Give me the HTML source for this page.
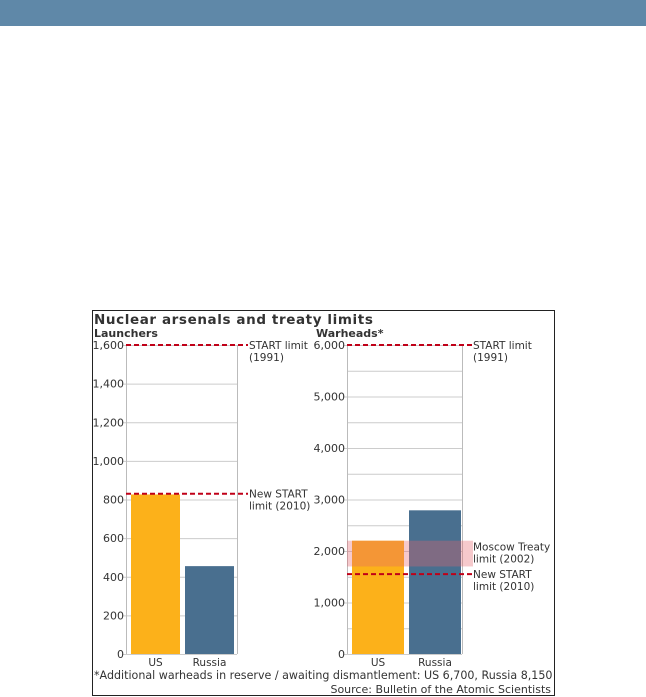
<!DOCTYPE html>
<html><head><meta charset="utf-8"><style>
body{margin:0;width:646px;height:697px;background:#fff;position:relative;overflow:hidden;font-family:"DejaVu Sans","Liberation Sans",sans-serif}
#hdr{position:absolute;left:0;top:0;width:646px;height:26px;background:#5f88a8}
svg{position:absolute;left:0;top:0}
text{font-family:"DejaVu Sans","Liberation Sans",sans-serif;fill:#333}
</style></head><body>
<div id="hdr"></div>
<svg id="c" width="646" height="697"></svg>
<script>
const categories=["US","Russia"];
const launchers=[826,455];
const warheads=[2200,2790];
const launcherTicks=[0,200,400,600,800,1000,1200,1400,1600];
const warheadTicks=[0,1000,2000,3000,4000,5000,6000];
const warheadGrid=[500,1500,2500,3500,4500,5500];
const launcherLimits=[1600,830];
const warheadLimits=[6000,1550];
const moscowBand=[1700,2200];
const colors=["#fcb11a","#496f8f"];
const svg=document.getElementById('c');const NS='http://www.w3.org/2000/svg';
function el(t,a,txt){const e=document.createElementNS(NS,t);for(const k in a)e.setAttribute(k,a[k]);if(txt!==undefined)e.textContent=txt;svg.appendChild(e);return e;}
const y0=654,yTop=345;
function yL(v){return y0-(v/1600)*(y0-yTop);}
function yW(v){return y0-(v/6000)*(y0-yTop);}
function fmt(v){return v.toLocaleString('en-US');}
let f=el('rect',{x:92.5,y:310.5,width:462,height:385,fill:'none',stroke:'#222','stroke-width':1});

let t=el('text',{x:94,y:324,'font-size':13.5,'font-weight':'bold','letter-spacing':'0.6'},'Nuclear arsenals and treaty limits');

t=el('text',{x:94,y:337,'font-size':11,'font-weight':'bold'},'Launchers');

t=el('text',{x:316,y:337,'font-size':11,'font-weight':'bold'},'Warheads*');

function panel(name,ys,ticks,grid,vals,xl,xr,bx,bw,gap,labelX){
 grid.forEach(v=>{let g=el('line',{x1:xl,x2:xr,y1:ys(v)+.5,y2:ys(v)+.5,stroke:'#ccc'});
  });
 ticks.forEach(v=>{let g=el('line',{x1:xl-4,x2:xr,y1:ys(v)+.5,y2:ys(v)+.5,stroke:'#ccc'});
  
  let l=el('text',{x:labelX,y:ys(v)+4,'font-size':11,'text-anchor':'end'},fmt(v));
  });
 let a=el('line',{x1:xl+.5,x2:xl+.5,y1:yTop,y2:y0,stroke:'#bbb'});
 a=el('line',{x1:xr+.5,x2:xr+.5,y1:yTop,y2:y0,stroke:'#bbb'});
 vals.forEach((v,i)=>{const x=bx+i*(bw+gap);
  let r=el('rect',{x:x,y:ys(v),width:bw,height:y0-ys(v),fill:colors[i]});
  
  let l=el('text',{x:x+bw/2,y:666,'font-size':10.5,'text-anchor':'middle'},categories[i]);
  });
}
panel('launchers',yL,launcherTicks,[],launchers,126,237,131,49,5,124);
panel('warheads',yW,warheadTicks,warheadGrid,warheads,347,462,352,52,5,345);
let b=el('rect',{x:347,y:yW(moscowBand[1]),width:126,height:yW(moscowBand[0])-yW(moscowBand[1]),fill:'rgba(230,100,110,0.35)'});

function limit(name,y,x1,x2,lines){let l=el('line',{x1:x1,x2:x2,y1:y,y2:y,stroke:'#c00018','stroke-width':2,'stroke-dasharray':'5,3'});
 
 lines.forEach((s,i)=>{let t=el('text',{x:x2+1,y:y+4+i*12,'font-size':10.5},s);});}
limit('launchers-start-limit',yL(launcherLimits[0]),126,248,['START limit','(1991)']);
limit('launchers-new-start-limit',yL(launcherLimits[1]),126,248,['New START','limit (2010)']);
limit('warheads-start-limit',yW(warheadLimits[0]),347,472,['START limit','(1991)']);
limit('warheads-new-start-limit',yW(warheadLimits[1]),347,472,['New START','limit (2010)']);
t=el('text',{x:473,y:yW(2200)+10,'font-size':10.5},'Moscow Treaty');
t=el('text',{x:473,y:yW(2200)+22,'font-size':10.5},'limit (2002)');
t=el('text',{x:94,y:679,'font-size':11.1},'*Additional warheads in reserve / awaiting dismantlement: US 6,700, Russia 8,150');
t=el('text',{x:551,y:693,'font-size':11,'text-anchor':'end'},'Source: Bulletin of the Atomic Scientists');
</script>
</body></html>
